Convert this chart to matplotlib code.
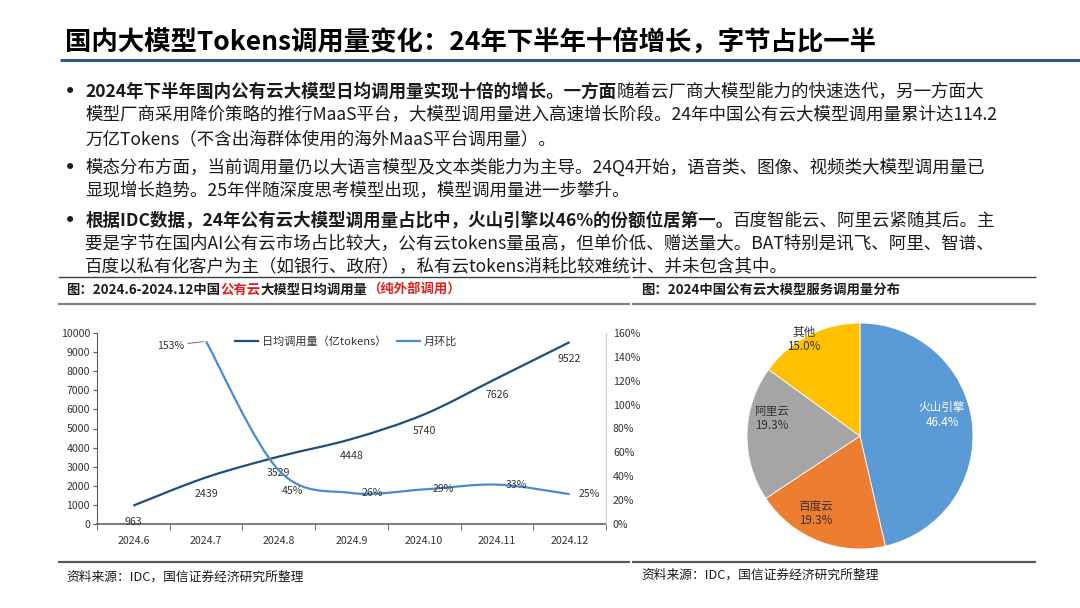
import matplotlib
matplotlib.use('Agg')
import matplotlib.pyplot as plt
import numpy as np
from matplotlib.path import Path
from matplotlib.patches import PathPatch
from matplotlib.lines import Line2D

plt.rcParams['font.family'] = ['Noto Sans CJK SC', 'DejaVu Sans']
plt.rcParams['axes.unicode_minus'] = False

# ---------------- data ----------------
months = ['2024.6', '2024.7', '2024.8', '2024.9', '2024.10', '2024.11', '2024.12']
daily_calls = [963, 2439, 3529, 4448, 5740, 7626, 9522]          # 亿tokens
mom_growth = [np.nan, 153, 45, 26, 29, 33, 25]                    # %
pie_labels = ['火山引擎', '百度云', '阿里云', '其他']
pie_shares = [46.4, 19.3, 19.3, 15.0]

title = '国内大模型Tokens调用量变化：24年下半年十倍增长，字节占比一半'
bullets = [
    [[('2024年下半年国内公有云大模型日均调用量实现十倍的增长。一方面', 'bold'), ('随着云厂商大模型能力的快速迭代，另一方面大', 'normal')],
     [('模型厂商采用降价策略的推行MaaS平台，大模型调用量进入高速增长阶段。24年中国公有云大模型调用量累计达114.2', 'normal')],
     [('万亿Tokens（不含出海群体使用的海外MaaS平台调用量）。', 'normal')]],
    [[('模态分布方面，当前调用量仍以大语言模型及文本类能力为主导。24Q4开始，语音类、图像、视频类大模型调用量已', 'normal')],
     [('显现增长趋势。25年伴随深度思考模型出现，模型调用量进一步攀升。', 'normal')]],
    [[('根据IDC数据，24年公有云大模型调用量占比中，火山引擎以46%的份额位居第一。', 'bold'), ('百度智能云、阿里云紧随其后。主', 'normal')],
     [('要是字节在国内AI公有云市场占比较大，公有云tokens量虽高，但单价低、赠送量大。BAT特别是讯飞、阿里、智谱、', 'normal')],
     [('百度以私有化客户为主（如银行、政府），私有云tokens消耗比较难统计、并未包含其中。', 'normal')]],
]
left_title_runs = [('图：2024.6-2024.12中国', 'k'), ('公有云', 'r'), ('大模型日均调用量', 'k'), ('（纯外部调用）', 'r')]
right_title = '图：2024中国公有云大模型服务调用量分布'
source = '资料来源：IDC，国信证券经济研究所整理'
legend_labels = ['日均调用量（亿tokens）', '月环比']

# ---------------- style ----------------
W, H = 1080, 608
C_DARK = '#1F4E79'
C_LIGHT = '#4A8BD0'
C_RED = '#E02020'
C_TXT = '#1a1a1a'
PIE_COLORS = ['#5B9BD5', '#ED7D31', '#A5A5A5', '#FFC000']

fig = plt.figure(figsize=(W / 100, H / 100), dpi=100)
fig.patch.set_facecolor('white')
renderer = fig.canvas.get_renderer()


def fx(x):
    return x / W


def fy(y):
    return 1 - y / H


def hline(y, x0, x1, color, lw):
    fig.add_artist(Line2D([fx(x0), fx(x1)], [fy(y), fy(y)], color=color, lw=lw,
                          transform=fig.transFigure, solid_capstyle='butt'))


def runs_text(x, y, runs, size):
    for txt, weight, color in runs:
        t = fig.text(fx(x), fy(y), txt, fontsize=size, fontweight=weight, color=color,
                     ha='left', va='center')
        x += t.get_window_extent(renderer=renderer).width


# title
fig.text(fx(65), fy(42), title, fontsize=19, fontweight='bold', color='black', ha='left', va='center')
hline(60, 60, 1080, '#2E5E8E', 2.2)

# bullets
line_h = 23.5
para_gap = 5.5
y = 92
for para in bullets:
    fig.text(fx(70), fy(y), '•', fontsize=15, color=C_TXT, ha='center', va='center', family='DejaVu Sans')
    for ln in para:
        runs_text(85, y, [(t, w, C_TXT) for t, w in ln], 12.6)
        y += line_h
    y += para_gap

# separators
for x0, x1 in [(58, 630), (632, 1036)]:
    hline(277, x0, x1, '#404040', 1.0)
    hline(304, x0, x1, '#808080', 1.6)
    hline(562, x0, x1, '#595959', 1.6)

runs_text(66, 290, [(t, 'bold', C_RED if c == 'r' else C_TXT) for t, c in left_title_runs], 9.6)
fig.text(fx(641), fy(290), right_title, fontsize=9.6, fontweight='bold', color=C_TXT, ha='left', va='center')
fig.text(fx(66), fy(577), source, fontsize=9.2, color=C_TXT, ha='left', va='center')
fig.text(fx(641), fy(575), source, fontsize=9.2, color=C_TXT, ha='left', va='center')


# ---------------- line chart ----------------
def smooth_path(xs, ys):
    pts = np.column_stack([xs, ys]).astype(float)
    n = len(pts)
    verts = [pts[0]]
    codes = [Path.MOVETO]
    for i in range(n - 1):
        p0 = pts[i - 1] if i > 0 else pts[i]
        p1 = pts[i]
        p2 = pts[i + 1]
        p3 = pts[i + 2] if i + 2 < n else pts[i + 1]
        c1 = p1 + (p2 - p0) / 6.0
        c2 = p2 - (p3 - p1) / 6.0
        verts += [c1, c2, p2]
        codes += [Path.CURVE4] * 3
    return Path(verts, codes)


ax = fig.add_axes([fx(97), fy(524), (606 - 97) / W, (524 - 333) / H])
ax2 = ax.twinx()
x = np.arange(len(months))
ax.set_xlim(-0.5, len(months) - 0.5)
ax.set_ylim(0, 10000)
ax2.set_ylim(0, 160)

ax.add_patch(PathPatch(smooth_path(x, daily_calls), facecolor='none', edgecolor=C_DARK, lw=1.6))
mask = ~np.isnan(np.array(mom_growth, dtype=float))
ax2.add_patch(PathPatch(smooth_path(x[mask], np.array(mom_growth, dtype=float)[mask]),
                        facecolor='none', edgecolor=C_LIGHT, lw=1.6))

for i, v in enumerate(daily_calls):
    ax.annotate(f'{v}', (i, v), xytext=(0, -12), textcoords='offset points', ha='center', va='center',
                fontsize=7.6, color='#333333')

mom_offsets = {1: (-16, -3), 2: (10, -15), 3: (15, 0), 4: (14, 0), 5: (14, 0), 6: (14, 0)}
for i, v in enumerate(mom_growth):
    if np.isnan(v):
        continue
    dx, dy = mom_offsets[i]
    ha = 'right' if dx < 0 else 'center'
    if i == 1:
        ax2.annotate(f'{int(v)}%', (i, v), xytext=(dx, dy), textcoords='offset points', ha=ha, va='center',
                     fontsize=7.6, color='#333333',
                     arrowprops=dict(arrowstyle='-', color='#555555', lw=0.6, shrinkA=1, shrinkB=2))
    else:
        ax2.annotate(f'{int(v)}%', (i, v), xytext=(dx, dy), textcoords='offset points', ha=ha, va='center',
                     fontsize=7.6, color='#333333')

ax.set_yticks(np.arange(0, 10001, 1000))
ax.set_xticks(x)
ax.set_xticklabels(months)
ax.set_xticks(np.arange(-0.5, len(months), 1), minor=True)
ax.tick_params(axis='x', which='major', length=0, pad=9, labelsize=7.6, labelcolor='#333333')
ax.tick_params(axis='x', which='minor', length=4, color='#595959', direction='out')
ax.tick_params(axis='y', length=3, color='#595959', labelsize=7.6, labelcolor='#333333', pad=2)
ax2.set_yticks(np.arange(0, 161, 20))
ax2.set_yticklabels([f'{v}%' for v in range(0, 161, 20)])
ax2.tick_params(axis='y', length=0, labelsize=7.6, labelcolor='#333333', pad=5)

for a in (ax, ax2):
    a.spines['top'].set_visible(False)
    a.set_facecolor('none')
ax.spines['right'].set_visible(False)
ax2.spines['left'].set_visible(False)
ax2.spines['bottom'].set_visible(False)
ax.spines['left'].set_color('#595959')
ax.spines['bottom'].set_color('#595959')
ax.spines['bottom'].set_linewidth(1.1)
ax2.spines['right'].set_color('#D0D0D0')

handles = [Line2D([], [], color=C_DARK, lw=1.6), Line2D([], [], color=C_LIGHT, lw=1.6)]
ax.legend(handles, legend_labels, loc='center', bbox_to_anchor=(0.49, 0.955), ncol=2, frameon=False,
          fontsize=8, handlelength=2.0, handletextpad=0.4, columnspacing=1.0, labelcolor='#333333')

# ---------------- pie ----------------
r_px = 113
pax = fig.add_axes([fx(860 - r_px), fy(436 + r_px), 2 * r_px / W, 2 * r_px / H])
wedges, _ = pax.pie(pie_shares, colors=PIE_COLORS, startangle=90, counterclock=False, radius=1,
                    wedgeprops=dict(edgecolor='white', linewidth=0.6))
pax.set_xlim(-1, 1)
pax.set_ylim(-1, 1)
pax.set_aspect('equal')
pax.axis('off')

label_r = [0.75, 0.79, 0.80, 0.99]
label_shift = [8, -8, -10, 3]
label_colors = ['white', '#333333', '#333333', '#333333']
for i, w in enumerate(wedges):
    ang = np.deg2rad((w.theta1 + w.theta2) / 2 + label_shift[i])
    pax.text(label_r[i] * np.cos(ang), label_r[i] * np.sin(ang), f'{pie_labels[i]}\n{pie_shares[i]:.1f}%',
             ha='center', va='center', fontsize=8.4, color=label_colors[i], linespacing=1.15)

fig.savefig('out.png', dpi=100, facecolor='white')
